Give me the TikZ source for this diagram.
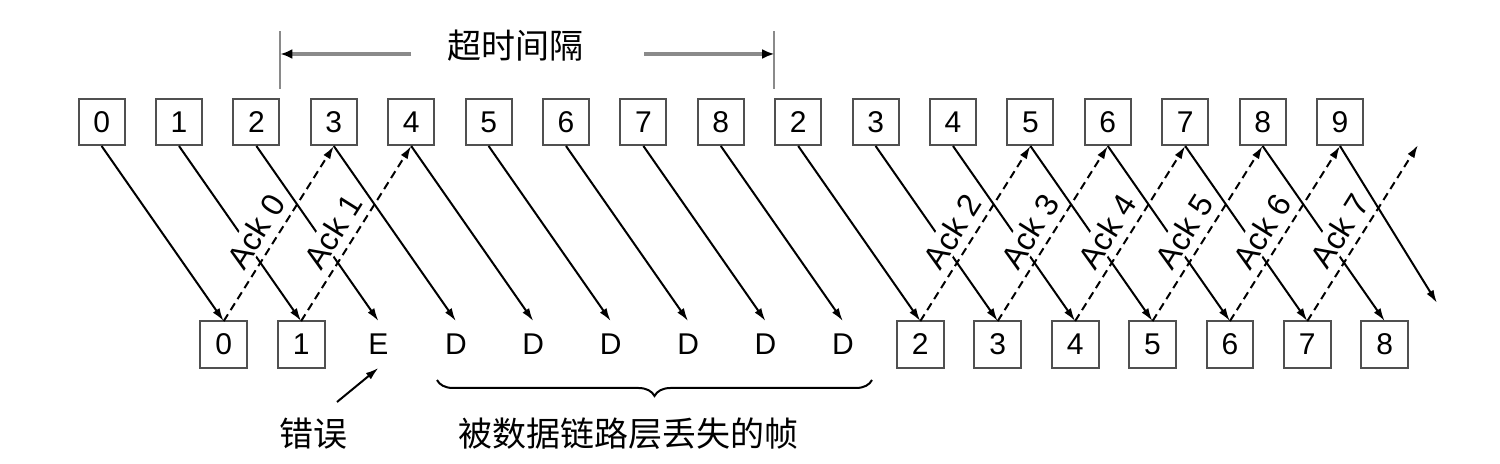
\documentclass[tikz,border=0pt]{standalone}
\usepackage{fontspec}
\setmainfont{Liberation Sans}
\newfontfamily\cjkfont{Noto Sans CJK SC}
\usepackage{tikz}
\usetikzlibrary{positioning, arrows.meta, decorations.pathreplacing, calc}
\definecolor{boxgray}{HTML}{505050}
\definecolor{timegray}{HTML}{8A8A8A}

\begin{document}
\begin{tikzpicture}[x=0.5pt, y=-0.5pt,
    framebox/.style={draw=boxgray, line width=1pt, minimum width=23pt, minimum height=23pt,
                     inner sep=0pt, font=\fontsize{15}{18}\selectfont},
    recvlab/.style={minimum width=23pt, minimum height=23pt, inner sep=0pt,
                    font=\fontsize{15}{18}\selectfont},
    framearr/.style={line width=1pt, -{Latex[length=6.5pt, width=4pt]}},
    ackarr/.style={line width=1pt, dash pattern=on 4pt off 2.5pt, -{Latex[length=6.5pt, width=4pt]}},
    acklab/.style={pos=0.45, sloped, above=3pt, fill=white, inner sep=1pt,
                   font=\fontsize{16}{19}\selectfont},
    cjklab/.style={font=\cjkfont\fontsize{17}{20}\selectfont, inner sep=0pt},
    tick/.style={draw=timegray, line width=1pt},
    timearr/.style={draw=timegray, line width=1.6pt, -{Latex[length=6pt, width=5pt, black]}}]
    \useasboundingbox (0,0) rectangle (1500,464);

    % sender frames and receiver side
    \foreach \lab [count=\i from 0] in {0,1,2,3,4,5,6,7,8,2,3,4,5,6,7,8,9}
      \node[framebox] (s\i) at (101.6+77.4*\i,122) {\lab};
    \foreach \lab [count=\j from 0] in {0,1,E,D,D,D,D,D,D,2,3,4,5,6,7,8}
      \node[recvlab] (r\j) at (223.7+77.4*\j,344.5) {\lab};
    \foreach \j in {0,1,9,10,11,12,13,14,15}
      \draw[draw=boxgray, line width=1pt] (r\j.south west) rectangle (r\j.north east);

    % frames going down
    \foreach \i in {0,...,15}
      \draw[framearr] (s\i.south) -- (r\i.north);
    \coordinate (lastend) at (1437,303);
    \draw[framearr] (s16.south) -- (lastend);

    % acknowledgements going up
    \foreach \j/\k/\n in {0/3/0, 1/4/1, 9/12/2, 10/13/3, 11/14/4, 12/15/5, 13/16/6}
      \draw[ackarr] (r\j.north) -- (s\k.south) node[acklab] {Ack \n};
    \coordinate (ack7end) at (1418,145);
    \draw[ackarr] (r14.north) -- (ack7end) node[acklab] {Ack 7};

    % timeout interval
    \node[cjklab] (timeout) at (515,46) {超时间隔};
    \draw[tick] ([yshift=4.5pt]s2.north east) -- ++(0,-58);
    \draw[tick] ([yshift=4.5pt]s9.north west) -- ++(0,-58);
    \coordinate (gapL) at (411,54);
    \coordinate (gapR) at (644,54);
    \draw[timearr] (gapL) -- (gapL -| s2.east);
    \draw[timearr] (gapR) -- (gapR -| s9.west);

    % error and lost frames
    \node[cjklab] (err) at (313,434) {错误};
    \coordinate (errtail) at (337,402);
    \draw[line width=1pt, -{Latex[length=6.5pt, width=4pt]}] (errtail) -- (r2.south);
    \coordinate (braceL) at (437,380);
    \coordinate (braceR) at (872,380);
    \draw[line width=1pt, decorate, decoration={brace, mirror, amplitude=8pt}] (braceL) -- (braceR);
    \node[cjklab] (lost) at (628,434) {被数据链路层丢失的帧};
\end{tikzpicture}
\end{document}
